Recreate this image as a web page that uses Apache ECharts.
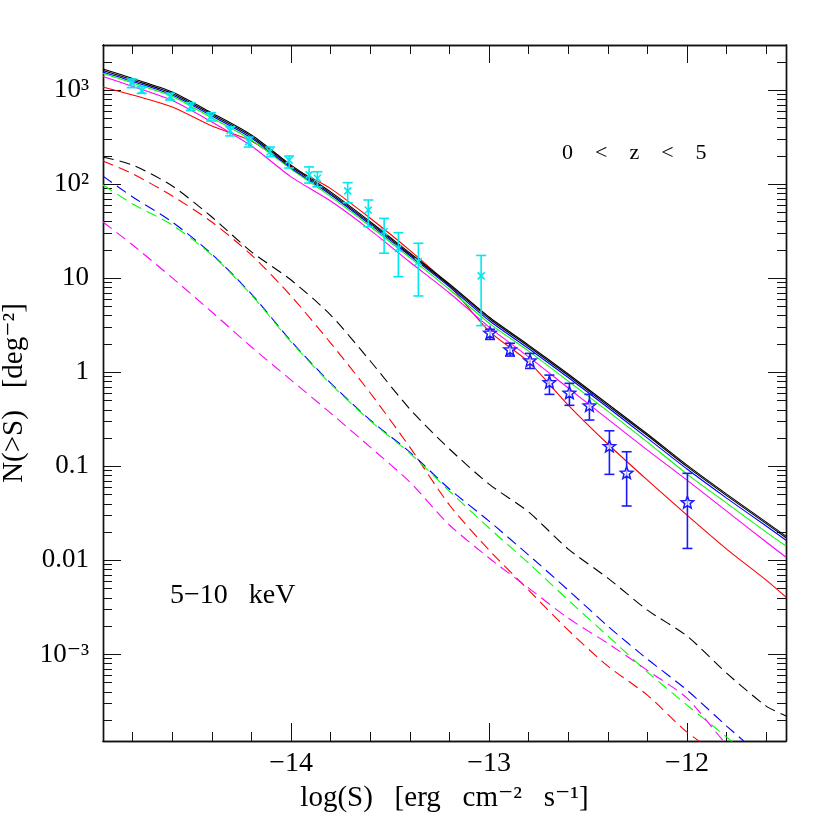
<!DOCTYPE html>
<html>
<head>
<meta charset="utf-8">
<script src="https://cdn.jsdelivr.net/npm/echarts@6/dist/echarts.min.js"></script>
<style>
  html, body { margin: 0; padding: 0; background: #fff; }
  #chart { width: 830px; height: 830px; }
</style>
</head>
<body>
<div id="chart"></div>
<script>
// log(S) grid of the model curves
const logS = [-14.95, -14.8, -14.6, -14.4, -14.2, -14.0, -13.8, -13.6, -13.4, -13.2,
              -13.0, -12.8, -12.6, -12.4, -12.2, -12.0, -11.8, -11.6, -11.5];

// solid curves, N(>S) in deg^-2
const solidBlack   = [1687, 1335, 959, 574, 334, 160, 83, 40, 18.6, 8.7, 3.88, 1.95, 0.959, 0.460, 0.221, 0.103, 0.0507, 0.0255, 0.0181];
const solidBlack2  = [1626, 1288, 925, 553, 323, 155, 80, 38.6, 18.0, 8.4, 3.74, 1.88, 0.925, 0.443, 0.213, 0.0993, 0.0489, 0.0246, 0.0174];
const solidBlue    = [1566, 1242, 891, 533, 311, 149, 77.5, 37.3, 17.4, 8.1, 3.56, 1.79, 0.881, 0.423, 0.200, 0.0937, 0.0460, 0.0232, 0.0164];
const solidGreen   = [1510, 1196, 859, 507, 296, 145.5, 74, 35.6, 16.6, 7.6, 3.34, 1.68, 0.807, 0.387, 0.181, 0.0828, 0.0407, 0.0200, 0.0142];
const solidMagenta = [1403, 1097, 779, 460, 255, 120, 66.4, 32.6, 14.9, 6.98, 3.03, 1.46, 0.681, 0.318, 0.149, 0.0714, 0.0334, 0.0157, 0.0108];
const solidRed     = [1084, 891, 664, 417, 289, 153, 90, 43.5, 19.8, 8.3, 2.75, 1.29, 0.449, 0.173, 0.0714, 0.0303, 0.0132, 0.00617, 0.00407];

// dashed curves
const dashBlack   = [195, 160, 95.9, 44.9, 19.1, 9.59, 4.07, 1.32, 0.407, 0.153, 0.0648, 0.0327, 0.0132, 0.00648, 0.00296, 0.00157, 6.32e-4, 2.82e-4, 2.21e-4];
const dashRed     = [177, 129, 75.2, 39.7, 17.7, 6.48, 2.05, 0.603, 0.160, 0.0388, 0.0129, 0.00483, 0.00181, 7.51e-4, 3.69e-4, 1.49e-4, 7.6e-5];
const dashBlue    = [122, 73.3, 39.7, 18.1, 6.81, 2.15, 0.769, 0.311, 0.142, 0.0574, 0.0262, 0.0114, 0.00483, 0.00200, 8.91e-4, 4.17e-4, 1.73e-4, 7.51e-5];
const dashGreen   = [98.4, 61.7, 36.9, 17.7, 6.64, 2.10, 0.751, 0.305, 0.138, 0.0546, 0.0221, 0.00935, 0.00378, 0.00157, 6.49e-4, 2.89e-4, 1.32e-4, 5.60e-5];
const dashMagenta = [39.7, 22.6, 10.1, 4.38, 1.86, 0.828, 0.369, 0.160, 0.0681, 0.0238, 0.0106, 0.00507, 0.00243, 0.00131, 6.76e-4, 3.43e-4, 1.11e-4, 5.0e-5];

// cyan points (x) with error bars
const cyanS  = [-14.805, -14.754, -14.611, -14.507, -14.404, -14.308, -14.214, -14.106, -14.010, -13.909, -13.867, -13.714, -13.610, -13.530, -13.458, -13.357, -13.040];
const cyanN  = [1205, 990, 855, 669, 524, 372, 284, 222, 181, 126, 116, 85, 53.3, 31.3, 20.8, 15.0, 10.6];
const cyanLo = [1066, 929, 788, 607, 471, 327, 249, 197, 149, 103, 94, 63.7, 35.4, 18.5, 10.4, 6.49, 3.14];
const cyanHi = [1318, 1092, 929, 738, 578, 410, 318, 249, 200, 153, 136, 104, 68.1, 43.4, 30.6, 23.6, 17.5];

// blue stars with error bars
const starS  = [-12.995, -12.894, -12.793, -12.695, -12.594, -12.493, -12.392, -12.305, -11.998];
const starN  = [2.60, 1.73, 1.32, 0.774, 0.598, 0.438, 0.162, 0.0843, 0.0410];
const starLo = [2.24, 1.49, 1.10, 0.583, 0.446, 0.311, 0.0822, 0.0379, 0.0134];
const starHi = [2.87, 2.04, 1.59, 0.935, 0.764, 0.583, 0.239, 0.143, 0.0843];

// axes
const X_MIN = -14.95, X_MAX = -11.5;
const Y_MIN = 1.2e-4, Y_MAX = 3030;
const xMajor = [-14, -13, -12];
const xMajorLabels = ['\u221214', '\u221213', '\u221212'];
const xMinor = [-14.8, -14.6, -14.4, -14.2, -13.8, -13.6, -13.4, -13.2, -12.8, -12.6, -12.4, -12.2, -11.8, -11.6];
const yMajor = [0.001, 0.01, 0.1, 1, 10, 100, 1000];
const yMajorLabels = ['10\u207B\u00B3', '0.01', '0.1', '1', '10', '10\u00B2', '10\u00B3'];

const yMinor = [];
for (let d = -4; d <= 3; d++) {
  for (let k = 2; k <= 9; k++) {
    const v = k * Math.pow(10, d);
    if (v > Y_MIN && v < Y_MAX) yMinor.push(v);
  }
}

const FONT = '"Liberation Serif", "DejaVu Serif", serif';
const AXIS_COLOR = '#111';

function pairs(xs, ys) {
  return ys.map((y, i) => [xs[i], y]);
}

function lineSeries(values, color, dashed) {
  return {
    type: 'line',
    xAxisIndex: 0,
    yAxisIndex: 0,
    data: pairs(logS, values),
    showSymbol: false,
    silent: true,
    clip: true,
    smooth: 0.25,
    lineStyle: { color: color, width: 1.1, type: dashed ? [11, 6] : 'solid' },
    z: dashed ? 2 : 3
  };
}

function starPoints(cx, cy, r1, r2) {
  const pts = [];
  for (let i = 0; i < 10; i++) {
    const a = -Math.PI / 2 + i * Math.PI / 5;
    const r = i % 2 ? r2 : r1;
    pts.push([cx + r * Math.cos(a), cy + r * Math.sin(a)]);
  }
  return pts;
}

function errorSeries(xs, ys, lo, hi, color, kind) {
  return {
    type: 'custom',
    xAxisIndex: 0,
    yAxisIndex: 0,
    silent: true,
    z: 5,
    data: xs.map((x, i) => [x, ys[i], lo[i], hi[i]]),
    renderItem: function (params, api) {
      const c = api.coord([api.value(0), api.value(1)]);
      const lo = api.coord([api.value(0), api.value(2)]);
      const hi = api.coord([api.value(0), api.value(3)]);
      const w = 5;
      const st = { stroke: color, lineWidth: 1.6, fill: null };
      const children = [
        { type: 'line', shape: { x1: c[0], y1: hi[1], x2: c[0], y2: lo[1] }, style: st },
        { type: 'line', shape: { x1: c[0] - w, y1: hi[1], x2: c[0] + w, y2: hi[1] }, style: st },
        { type: 'line', shape: { x1: c[0] - w, y1: lo[1], x2: c[0] + w, y2: lo[1] }, style: st }
      ];
      if (kind === 'cross') {
        const s = 3.5;
        children.push({ type: 'line', shape: { x1: c[0] - s, y1: c[1] - s, x2: c[0] + s, y2: c[1] + s }, style: st });
        children.push({ type: 'line', shape: { x1: c[0] - s, y1: c[1] + s, x2: c[0] + s, y2: c[1] - s }, style: st });
      } else {
        children.push({
          type: 'polygon',
          shape: { points: starPoints(c[0], c[1], 6.5, 2.8) },
          style: { stroke: color, lineWidth: 1.5, fill: 'rgba(255,255,255,0.6)' }
        });
      }
      return { type: 'group', children: children };
    }
  };
}

function xAxisDef(grid, pos, ticks, len, withLabels) {
  return {
    type: 'value', gridIndex: grid, position: pos, min: X_MIN, max: X_MAX,
    axisLine: { show: true, onZero: false, lineStyle: { color: AXIS_COLOR, width: 1.4 } },
    axisTick: { show: true, inside: true, length: len, customValues: ticks, lineStyle: { color: AXIS_COLOR, width: 1 } },
    axisLabel: withLabels ? {
      show: true, customValues: xMajor, margin: 9,
      fontFamily: FONT, fontSize: 28, color: '#000',
      formatter: function (v) { return xMajorLabels[xMajor.indexOf(Math.round(v))]; }
    } : { show: false },
    splitLine: { show: false }
  };
}

function yAxisDef(grid, pos, ticks, len, withLabels) {
  return {
    type: 'log', logBase: 10, gridIndex: grid, position: pos, min: Y_MIN, max: Y_MAX,
    axisLine: { show: true, onZero: false, lineStyle: { color: AXIS_COLOR, width: 1.4 } },
    axisTick: { show: true, inside: true, length: len, customValues: ticks, lineStyle: { color: AXIS_COLOR, width: 1 } },
    axisLabel: withLabels ? {
      show: true, customValues: yMajor, margin: 14,
      fontFamily: FONT, fontSize: 27, color: '#000',
      formatter: function (v) {
        const e = Math.round(Math.log10(v));
        return yMajorLabels[e + 3];
      }
    } : { show: false },
    splitLine: { show: false },
    minorTick: { show: false }
  };
}

const gridRect = { left: 103, top: 45, width: 683, height: 696 };

const xAxes = [
  xAxisDef(0, 'bottom', xMajor, 18, true),
  xAxisDef(0, 'top', xMajor, 18, false),
  xAxisDef(1, 'bottom', xMinor, 9, false),
  xAxisDef(1, 'top', xMinor, 9, false)
];
xAxes[0].name = 'log(S)   [erg   cm\u207B\u00B2   s\u207B\u00B9]';
xAxes[0].nameLocation = 'middle';
xAxes[0].nameGap = 43;
xAxes[0].nameTextStyle = { fontFamily: FONT, fontSize: 29, color: '#000' };

const yAxes = [
  yAxisDef(0, 'left', yMajor, 18, true),
  yAxisDef(0, 'right', yMajor, 18, false),
  yAxisDef(1, 'left', yMinor, 9, false),
  yAxisDef(1, 'right', yMinor, 9, false)
];
yAxes[0].name = 'N(>S)   [deg\u207B\u00B2]';
yAxes[0].nameLocation = 'middle';
yAxes[0].nameRotate = 90;
yAxes[0].nameGap = 71;
yAxes[0].nameTextStyle = { fontFamily: FONT, fontSize: 29, color: '#000' };

const series = [
  lineSeries(dashBlack, '#000000', true),
  lineSeries(dashRed, '#ff0000', true),
  lineSeries(dashBlue, '#0000ff', true),
  lineSeries(dashGreen, '#00ff00', true),
  lineSeries(dashMagenta, '#ff00ff', true),
  lineSeries(solidRed, '#ff0000', false),
  lineSeries(solidMagenta, '#ff00ff', false),
  lineSeries(solidGreen, '#00ff00', false),
  lineSeries(solidBlue, '#0000ff', false),
  lineSeries(solidBlack2, '#000000', false),
  lineSeries(solidBlack, '#000000', false),
  errorSeries(cyanS, cyanN, cyanLo, cyanHi, '#00e8f0', 'cross'),
  errorSeries(starS, starN, starLo, starHi, '#1a1aff', 'star')
];

const chart = echarts.init(document.getElementById('chart'));
chart.setOption({
  backgroundColor: '#ffffff',
  animation: false,
  grid: [
    Object.assign({ containLabel: false, outerBoundsMode: 'none' }, gridRect),
    Object.assign({ containLabel: false, outerBoundsMode: 'none' }, gridRect)
  ],
  xAxis: xAxes,
  yAxis: yAxes,
  series: series,
  graphic: [
    {
      type: 'text', left: 562, top: 142, silent: true,
      style: { text: '0    <    z    <    5', fontFamily: FONT, fontSize: 22, fill: '#000' }
    },
    {
      type: 'text', left: 170, top: 582, silent: true,
      style: { text: '5\u221210   keV', fontFamily: FONT, fontSize: 28, fill: '#000' }
    }
  ]
});
</script>
</body>
</html>
